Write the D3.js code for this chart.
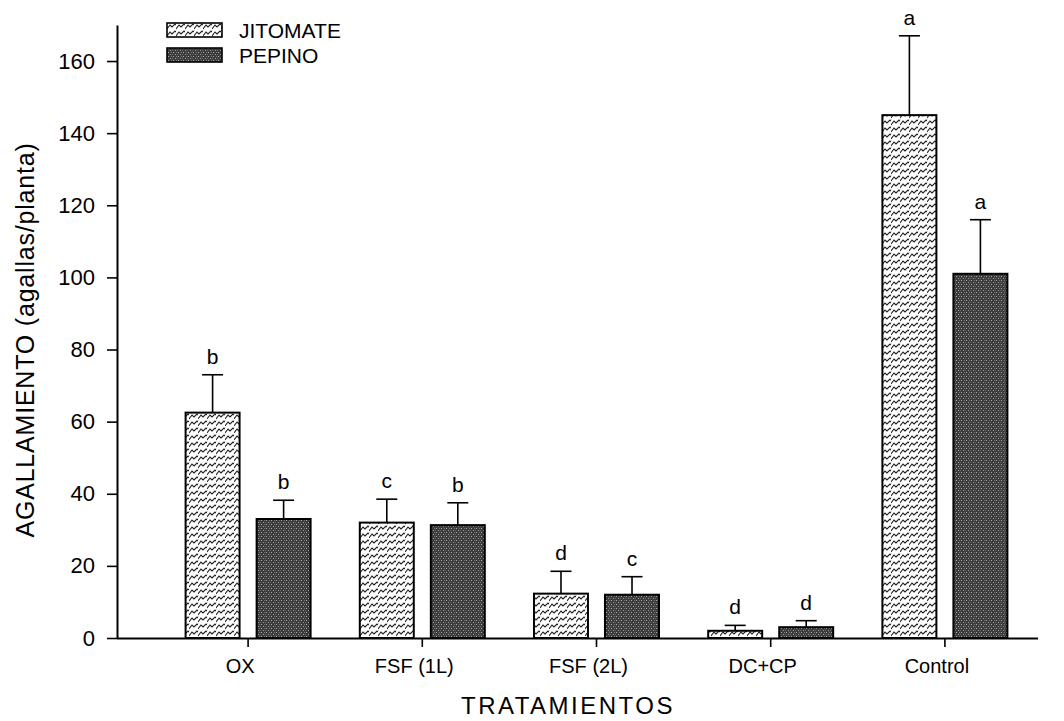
<!DOCTYPE html>
<html>
<head>
<meta charset="utf-8">
<script src="https://cdn.jsdelivr.net/npm/d3@7.9.0/dist/d3.min.js"></script>
<style>
  body { margin: 0; background: #fff; }
  text { font-family: Arial, "Liberation Sans", sans-serif; fill: #000; }
</style>
</head>
<body>
<div id="chart"></div>
<script>
// data
const categories = ['OX', 'FSF (1L)', 'FSF (2L)', 'DC+CP', 'Control'];
const series = ['JITOMATE', 'PEPINO'];
const jitomate = [62.5, 32, 12.3, 2, 145];
const jitomateErr = [10.5, 6.5, 6.2, 1.5, 22];
const jitomateLetters = ['b', 'c', 'd', 'd', 'a'];
const pepino = [33, 31.3, 12, 3, 101];
const pepinoErr = [5.2, 6.2, 5, 1.8, 15];
const pepinoLetters = ['b', 'b', 'c', 'd', 'a'];
const yTicks = [0, 20, 40, 60, 80, 100, 120, 140, 160];

const width = 1064;
const height = 721;
const margin = { top: 22, right: 26, bottom: 83, left: 117 };
const font = 'Arial, "Liberation Sans", sans-serif';

const svg = d3.select('#chart')
  .append('svg')
  .attr('width', width)
  .attr('height', height);

// fill patterns
const defs = svg.append('defs');
const pj = defs.append('pattern')
  .attr('id', 'pat-jitomate')
  .attr('patternUnits', 'userSpaceOnUse')
  .attr('width', 9).attr('height', 7);
pj.append('rect').attr('width', 9).attr('height', 7).attr('fill', '#fff');
pj.append('path')
  .attr('d', 'M0,6 L3,2 L5,4 L8,1 L9,2 M-1,1 L0,0')
  .attr('fill', 'none')
  .attr('stroke', '#222')
  .attr('stroke-width', 1.1);

const pp = defs.append('pattern')
  .attr('id', 'pat-pepino')
  .attr('patternUnits', 'userSpaceOnUse')
  .attr('width', 5).attr('height', 4);
pp.append('rect').attr('width', 5).attr('height', 4).attr('fill', '#3c3c3c');
pp.append('rect').attr('x', 1).attr('y', 0).attr('width', 1).attr('height', 1).attr('fill', '#aaa');
pp.append('rect').attr('x', 3).attr('y', 2).attr('width', 1).attr('height', 1).attr('fill', '#999');
pp.append('rect').attr('x', 0).attr('y', 2).attr('width', 1).attr('height', 1).attr('fill', '#666');
pp.append('rect').attr('x', 4).attr('y', 0).attr('width', 1).attr('height', 1).attr('fill', '#777');

const fills = { JITOMATE: 'url(#pat-jitomate)', PEPINO: 'url(#pat-pepino)' };

const yScale = d3.scaleLinear()
  .domain([0, 170])
  .range([638, 638 - 170 * 3.606]);

const xScale = d3.scaleBand()
  .domain(categories)
  .range([161, 1032])
  .paddingInner(0)
  .paddingOuter(0);

const sub = d3.scaleBand()
  .domain(series)
  .range([0, 125])
  .paddingInner(0.24);

const offset = (xScale.bandwidth() - 125) / 2;

const rows = categories.flatMap((c, i) => [
  { cat: c, s: 'JITOMATE', v: jitomate[i], e: jitomateErr[i], l: jitomateLetters[i] },
  { cat: c, s: 'PEPINO', v: pepino[i], e: pepinoErr[i], l: pepinoLetters[i] },
]);

const bx = (d) => xScale(d.cat) + offset + sub(d.s);

// error bars (upward only)
const err = svg.append('g').attr('class', 'errors');
err.selectAll('line.v')
  .data(rows)
  .join('line')
  .attr('class', 'v')
  .attr('x1', (d) => bx(d) + sub.bandwidth() / 2)
  .attr('x2', (d) => bx(d) + sub.bandwidth() / 2)
  .attr('y1', (d) => yScale(d.v))
  .attr('y2', (d) => yScale(d.v + d.e))
  .attr('stroke', '#000')
  .attr('stroke-width', 1.6);
err.selectAll('line.cap')
  .data(rows)
  .join('line')
  .attr('class', 'cap')
  .attr('x1', (d) => bx(d) + sub.bandwidth() / 2 - 10.5)
  .attr('x2', (d) => bx(d) + sub.bandwidth() / 2 + 10.5)
  .attr('y1', (d) => yScale(d.v + d.e))
  .attr('y2', (d) => yScale(d.v + d.e))
  .attr('stroke', '#000')
  .attr('stroke-width', 1.6);

// bars
svg.append('g')
  .selectAll('rect')
  .data(rows)
  .join('rect')
  .attr('x', bx)
  .attr('y', (d) => yScale(d.v))
  .attr('width', sub.bandwidth())
  .attr('height', (d) => yScale(0) - yScale(d.v))
  .attr('fill', (d) => fills[d.s])
  .attr('stroke', '#000')
  .attr('stroke-width', 2);

// significance letters
svg.append('g')
  .selectAll('text')
  .data(rows)
  .join('text')
  .attr('x', (d) => bx(d) + sub.bandwidth() / 2)
  .attr('y', (d) => yScale(d.v + d.e) - 11)
  .attr('text-anchor', 'middle')
  .style('font-size', '21px')
  .text((d) => d.l);

// y axis
const yAxis = svg.append('g')
  .attr('transform', `translate(${margin.left},0)`)
  .call(d3.axisLeft(yScale).tickValues(yTicks).tickSize(10).tickPadding(12).tickSizeOuter(0));
yAxis.select('.domain').attr('stroke-width', 2);
yAxis.selectAll('.tick line').attr('stroke-width', 1.6);
yAxis.selectAll('.tick text').style('font-size', '22px').style('font-family', font);

// x axis
const xAxis = svg.append('g')
  .attr('transform', `translate(0,${yScale(0)})`)
  .call(d3.axisBottom(xScale).tickSize(9).tickPadding(12).tickSizeOuter(0));
xAxis.select('.domain')
  .attr('d', `M${margin.left},0.5H${width - margin.right}`)
  .attr('stroke-width', 2);
xAxis.selectAll('.tick line').attr('stroke-width', 1.6);
xAxis.selectAll('.tick text')
  .attr('dx', -8)
  .style('font-size', '20px')
  .style('font-family', font);

// axis titles
svg.append('text')
  .attr('x', 568)
  .attr('y', 714)
  .attr('text-anchor', 'middle')
  .style('font-size', '24px')
  .style('letter-spacing', '2.5px')
  .text('TRATAMIENTOS');

svg.append('text')
  .attr('transform', 'translate(34,340) rotate(-90)')
  .attr('text-anchor', 'middle')
  .style('font-size', '25px')
  .style('letter-spacing', '0.8px')
  .text('AGALLAMIENTO (agallas/planta)');

// legend
const legend = svg.append('g').attr('transform', 'translate(167,23)');
series.forEach((s, i) => {
  const g = legend.append('g').attr('transform', `translate(0,${i * 25})`);
  g.append('rect')
    .attr('width', 55)
    .attr('height', 14)
    .attr('fill', fills[s])
    .attr('stroke', '#000')
    .attr('stroke-width', 1.6);
  g.append('text')
    .attr('x', 72)
    .attr('y', 15)
    .style('font-size', '21px')
    .text(s);
});
</script>
</body>
</html>
